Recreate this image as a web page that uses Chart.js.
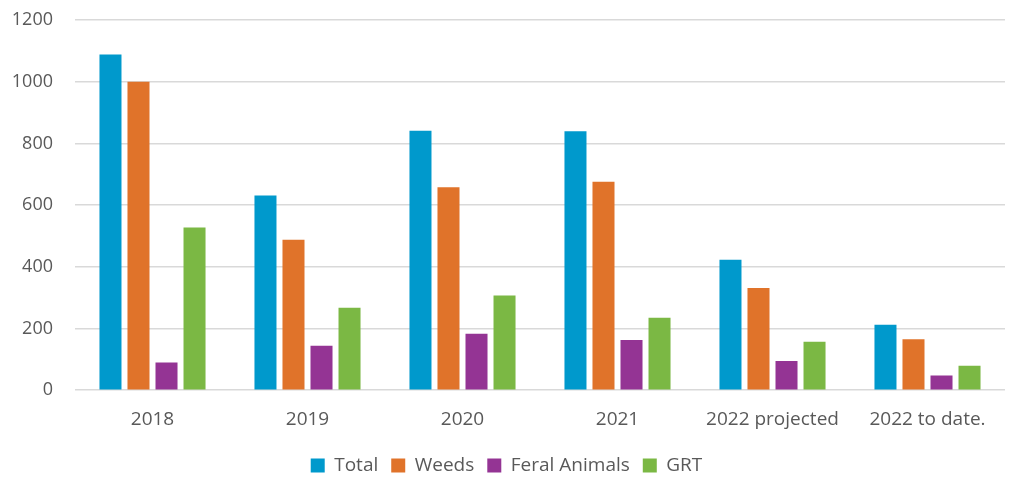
<!DOCTYPE html>
<html>
<head>
<meta charset="utf-8">
<script src="https://cdn.jsdelivr.net/npm/chart.js@4"></script>
<style>
  html, body { margin: 0; padding: 0; background: #fff; }
</style>
</head>
<body>
<canvas id="myChart" width="1024" height="496"></canvas>
<script>
const categories = ['2018', '2019', '2020', '2021', '2022 projected', '2022 to date.'];
const total = [1088, 631, 841, 839, 423, 212];
const weeds = [1000, 488, 658, 676, 331, 165];
const feralAnimals = [90, 144, 183, 163, 95, 48];
const grt = [527, 267, 307, 235, 157, 79];
const yTicks = [0, 200, 400, 600, 800, 1000, 1200];

const textColor = '#595959';
const gridColor = '#d9d9d9';
const fontFamily = "'Open Sans', 'Noto Sans', sans-serif";

const makeSet = (label, data, color) => ({
    label: label,
    data: data,
    backgroundColor: color,
    borderWidth: 0,
    categoryPercentage: 0.723,
    barPercentage: 0.786
});

const data = {
    labels: categories,
    datasets: [
        makeSet('Total', total, '#0099cc'),
        makeSet('Weeds', weeds, '#e0732a'),
        makeSet('Feral Animals', feralAnimals, '#943494'),
        makeSet('GRT', grt, '#7bb844')
    ]
};

const config = {
    type: 'bar',
    data: data,
    options: {
        responsive: false,
        animation: false,
        layout: {
            padding: { left: 8, right: 19, top: 20, bottom: 11 }
        },
        plugins: {
            tooltip: { enabled: false },
            legend: {
                display: true,
                position: 'bottom',
                labels: {
                    boxWidth: 14,
                    boxHeight: 14,
                    padding: 13,
                    color: textColor,
                    font: { family: fontFamily, size: 19 }
                }
            }
        },
        scales: {
            x: {
                grid: { display: false },
                border: { display: false },
                afterFit: (scale) => {
                    scale.height = scale.height + 2;
                },
                ticks: {
                    color: textColor,
                    padding: 10,
                    font: { family: fontFamily, size: 19 }
                }
            },
            y: {
                min: 0,
                max: 1200,
                afterBuildTicks: (scale) => {
                    scale.ticks = yTicks.map(v => ({ value: v }));
                },
                afterFit: (scale) => {
                    scale.width = 67;
                    scale.paddingTop = 0;
                    scale.paddingBottom = 0;
                },
                grid: { color: gridColor, lineWidth: 1.5, drawTicks: false },
                border: { display: false },
                ticks: {
                    color: textColor,
                    padding: 22,
                    font: { family: fontFamily, size: 18 },
                    callback: (v) => String(v)
                }
            }
        }
    }
};

let myChart = new Chart(document.getElementById('myChart'), config);
</script>
</body>
</html>
